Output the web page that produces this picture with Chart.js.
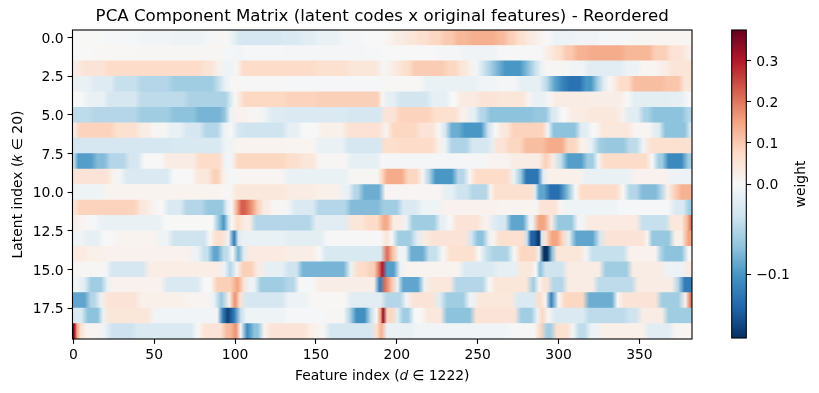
<!DOCTYPE html>
<html>
<head>
<meta charset="utf-8">
<script src="https://cdn.jsdelivr.net/npm/chart.js@4"></script>
<style>
html,body{margin:0;padding:0;background:#fff;width:819px;height:393px;overflow:hidden}
canvas{position:absolute;top:0}
#main{left:0}
#cbar{left:700px}
</style>
</head>
<body>
<canvas id="main" width="819" height="393"></canvas>
<canvas id="cbar" width="119" height="393"></canvas>
<script>
// Each row: [feature index where the segment ends, weight]
const row0=[[20,.001],[40,-.002],[60,-.005],[80,-.009],[88,-.004],[93,.006],[97,.003],[100,-.012],[104,-.028],[128,-.03],[140,-.026],[150,-.02],[165,-.012],[178,-.004],[193,0],[198,.012],[205,.03],[212,.045],[220,.06],[228,.08],[236,.1],[245,.125],[262,.135],[268,.12],[274,.09],[280,.06],[286,.035],[290,.015],[296,0],[310,-.01],[325,-.006],[345,-.002],[360,.006],[383,.009]];
const row1=[[12,0],[40,.003],[92,.006],[100,-.004],[105,-.006],[130,-.002],[180,-.003],[190,-.002],[225,0],[240,-.003],[262,-.007],[290,-.001],[293,.015],[297,.035],[303,.06],[310,.1],[318,.13],[340,.14],[358,.125],[368,.09],[378,.05],[383,.025]];
const row2=[[5,.03],[20,.05],[80,.07],[87,.05],[92,.02],[99,-.008],[103,.005],[150,.07],[170,.06],[189,.045],[194,-.003],[198,.02],[203,.04],[209,.065],[230,.095],[238,.08],[244,.045],[248,.015],[251,-.005],[255,-.03],[260,-.055],[265,-.08],[278,-.1],[283,-.075],[288,-.04],[291,-.01],[306,.006],[317,-.005],[340,-.02],[350,-.01],[362,.008],[368,.025],[383,.048]];
const row3=[[11,-.012],[25,-.022],[40,-.04],[60,-.05],[88,-.06],[92,-.04],[96,-.012],[101,.004],[130,.002],[190,-.002],[216,.003],[250,-.012],[262,-.005],[275,-.004],[290,-.016],[295,-.045],[300,-.09],[305,-.115],[315,-.128],[322,-.1],[326,-.06],[330,-.02],[333,.005],[336,.03],[345,.07],[365,.115],[376,.105],[383,.045]];
const row4=[[7,0],[20,-.012],[40,-.03],[70,-.045],[96,-.055],[99,-.025],[101,0],[104,.035],[131,.078],[150,.085],[190,.09],[192,.01],[200,-.015],[220,-.032],[232,-.016],[238,0],[250,.035],[262,.05],[280,.045],[283,.01],[293,-.012],[296,.005],[320,.03],[340,.025],[345,0],[370,-.018],[378,-.015],[383,-.002]];
const row5=[[11,-.045],[40,-.05],[60,-.06],[76,-.07],[92,-.08],[95,-.068],[99,-.01],[108,.015],[116,.005],[121,-.008],[131,-.022],[170,-.026],[191,-.03],[200,.05],[222,.085],[238,.06],[244,.02],[250,-.015],[256,-.05],[285,-.07],[294,-.065],[300,-.025],[306,0],[317,.03],[337,.04],[342,.015],[351,-.02],[357,-.055],[378,-.07],[383,-.05]];
const row6=[[2,.03],[25,.085],[40,.06],[48,.03],[58,.005],[68,-.012],[80,-.03],[91,-.05],[95,-.012],[100,0],[104,-.03],[131,-.035],[140,-.015],[152,0],[168,.02],[191,.055],[196,.012],[213,.08],[224,.05],[228,.005],[232,-.03],[240,-.085],[254,-.1],[259,-.035],[263,0],[270,.04],[292,.085],[295,-.005],[312,-.07],[319,-.02],[325,0],[345,.04],[358,.008],[364,-.02],[380,-.07],[383,-.03]];
const row7=[[60,-.03],[92,-.027],[99,-.008],[131,.012],[150,.008],[168,-.012],[191,-.03],[200,.065],[224,.07],[228,.02],[232,-.01],[245,-.052],[258,-.03],[260,-.015],[268,.05],[278,.08],[292,.115],[304,.14],[312,.08],[318,.02],[323,-.015],[328,-.06],[342,-.065],[350,-.045],[355,-.005],[380,.06],[383,.055]];
const row8=[[1,-.04],[13,-.095],[21,-.075],[33,-.05],[42,-.03],[56,0],[76,.03],[92,.07],[100,-.005],[131,.08],[140,.065],[150,.045],[170,.005],[190,-.015],[192,.002],[255,-.003],[270,.01],[290,.03],[294,.09],[299,.03],[304,-.04],[316,-.095],[323,-.06],[326,-.005],[356,.07],[360,0],[366,-.06],[378,-.11],[383,-.06]];
const row9=[[23,.05],[27,.012],[31,-.005],[60,-.025],[75,0],[85,.04],[91,.09],[95,.02],[101,-.004],[131,.008],[170,-.012],[190,.006],[192,.08],[205,.14],[214,.08],[218,.01],[222,-.05],[236,-.1],[243,-.05],[247,.002],[270,.07],[275,-.01],[278,-.06],[289,-.125],[292,-.02],[315,.02],[345,-.012],[368,.015],[383,-.01]];
const row10=[[19,-.008],[90,.012],[99,.006],[131,.04],[150,.03],[165,.02],[172,-.012],[178,-.05],[191,-.085],[228,.007],[236,-.015],[245,-.035],[257,-.05],[259,.01],[285,.06],[286,-.02],[293,-.09],[302,-.13],[306,-.09],[309,-.05],[312,0],[338,.07],[342,0],[350,-.05],[362,-.075],[365,-.05],[370,.02],[374,.09],[383,.13]];
const row11=[[2,.05],[40,.085],[46,.04],[51,.015],[57,0],[68,-.025],[81,-.05],[94,-.065],[96,-.015],[100,0],[102,.13],[108,.225],[112,.17],[116,.09],[122,.03],[131,.005],[135,-.005],[150,-.025],[170,-.05],[190,-.075],[202,-.06],[214,-.025],[227,-.008],[262,.015],[285,.012],[287,-.003],[300,.05],[302,.008],[336,-.008],[370,-.002],[379,-.025],[383,-.06]];
const row12=[[2,.025],[8,.01],[15,-.002],[55,-.012],[88,.001],[91,-.06],[95,-.1],[97,-.03],[99,0],[104,.07],[111,.03],[148,-.05],[170,-.02],[180,.045],[190,.07],[196,.14],[204,.03],[208,-.01],[225,-.06],[231,-.015],[235,0],[252,.05],[258,.015],[262,-.02],[269,-.03],[280,-.09],[286,-.01],[293,.15],[298,.03],[310,-.065],[317,-.005],[350,.035],[368,-.04],[378,.04],[381,.12],[383,.2]];
const row13=[[7,-.008],[17,-.015],[25,0],[52,.012],[60,-.008],[83,-.035],[86,.003],[94,.06],[98,-.01],[101,-.12],[103,-.025],[131,-.012],[155,-.018],[192,.002],[195,.05],[199,0],[210,-.06],[215,-.02],[220,.03],[244,.05],[248,-.03],[255,-.07],[259,-.01],[261,.01],[280,.06],[281,-.04],[287,-.14],[289,-.17],[290,-.03],[294,.05],[301,.15],[304,.08],[309,-.015],[323,-.09],[328,-.03],[354,.05],[356,.01],[370,-.065],[378,.02],[383,.15]];
const row14=[[8,.035],[20,.02],[73,.015],[79,-.01],[85,-.04],[91,-.09],[97,-.045],[100,0],[104,-.08],[107,-.02],[131,.035],[150,.025],[154,0],[192,-.027],[196,.21],[199,.11],[204,-.005],[207,-.01],[218,-.085],[226,-.04],[231,0],[249,.06],[253,0],[258,-.04],[270,-.055],[275,0],[287,.08],[289,-.01],[295,-.17],[297,-.07],[315,.045],[319,-.005],[342,-.04],[362,.015],[364,-.05],[378,-.07],[383,.003]];
const row15=[[19,.006],[22,-.005],[45,-.03],[92,.027],[95,-.01],[99,-.05],[103,-.005],[112,.09],[118,.03],[131,-.015],[140,-.035],[169,-.08],[174,-.01],[182,.07],[188,.09],[190,.2],[192,.3],[200,-.095],[204,-.012],[240,.012],[261,-.025],[275,-.015],[285,.04],[287,0],[290,-.07],[304,-.035],[327,.03],[344,-.06],[365,.03],[378,-.01],[383,.035]];
const row16=[[5,-.005],[9,-.02],[19,-.06],[23,-.012],[56,.015],[79,-.025],[87,0],[99,.09],[104,.15],[107,.05],[114,-.01],[131,-.06],[138,-.05],[150,.002],[188,.025],[191,-.12],[195,.2],[199,.1],[202,-.01],[215,-.09],[219,-.01],[235,.04],[255,-.05],[259,0],[282,.045],[287,-.06],[289,.01],[295,.05],[304,-.05],[323,.03],[347,-.045],[372,.03],[376,-.05],[383,-.12]];
const row17=[[9,-.09],[15,-.05],[19,-.01],[40,.05],[70,.02],[85,.01],[89,-.01],[94,-.065],[99,.02],[101,.17],[105,.06],[131,-.03],[145,-.01],[170,.004],[192,-.02],[204,-.05],[208,-.005],[224,.05],[229,-.02],[243,-.06],[249,-.01],[273,.04],[286,-.025],[291,.07],[293,.01],[298,-.115],[302,0],[317,.08],[335,-.085],[338,0],[362,.05],[376,-.06],[381,.02],[383,.2]];
const row18=[[7,-.025],[17,-.07],[20,-.01],[48,.045],[91,-.005],[94,-.12],[97,-.16],[102,-.12],[105,-.04],[131,-.008],[155,-.002],[169,.006],[173,-.05],[182,-.105],[186,-.04],[189,0],[191,.15],[192,.33],[199,.08],[202,-.02],[209,-.06],[217,0],[229,.04],[247,-.07],[275,.05],[285,-.06],[289,-.01],[291,.08],[296,.01],[317,-.025],[342,-.045],[350,-.035],[366,.03],[383,-.06]];
const row19=[[.5,.37],[1.5,.28],[3,.15],[6,.06],[17,.01],[22,-.01],[38,-.036],[75,-.025],[79,.002],[93,.05],[99,.12],[102,.17],[105,0],[110,-.11],[116,-.07],[120,.01],[145,.05],[152,.02],[157,.005],[186,-.03],[189,.06],[192,.13],[211,-.012],[270,-.006],[287,.002],[291,.08],[297,-.06],[307,.06],[311,-.005],[318,-.045],[325,-.01],[354,.02],[370,-.02],[383,.008]];
const rows=[row0,row1,row2,row3,row4,row5,row6,row7,row8,row9,row10,row11,row12,row13,row14,row15,row16,row17,row18,row19];
const xTicks=[0,50,100,150,200,250,300,350];
const yTicks=[0,2.5,5,7.5,10,12.5,15,17.5];
const cbarTicks=[-0.1,0,0.1,0.2,0.3];
const vMin=-0.171, vMax=0.374;
const rdbu=['#053061','#2166ac','#4393c3','#92c5de','#d1e5f0','#f7f7f7','#fddbc7','#f4a582','#d6604d','#b2182b','#67001f'];
const font='"DejaVu Sans"';

function norm(v){return v<0?0.5+0.5*Math.max(v,vMin)/(-vMin):0.5+0.5*Math.min(v,vMax)/vMax;}
function hex(h){return [1,3,5].map(i=>parseInt(h.substr(i,2),16));}
function colour(v){
  const t=norm(v)*10,i=Math.min(9,Math.floor(t)),f=t-i,a=hex(rdbu[i]),b=hex(rdbu[i+1]);
  return 'rgb('+a.map((c,k)=>Math.round(c+(b[k]-c)*f)).join(',')+')';
}
// Each row is one bar; its fill follows the row's read segments across the x scale.
function rowFill(ctx){
  const s=ctx.chart.scales.x;
  if(!s||!ctx.chart.chartArea)return '#f7f7f7';
  const row=rows[ctx.dataIndex],x0=s.getPixelForValue(-0.5),x1=s.getPixelForValue(382.5);
  const g=ctx.chart.ctx.createLinearGradient(x0,0,x1,0);
  const put=(f,w)=>{
    const p=(s.getPixelForValue(f)-x0)/(x1-x0);
    g.addColorStop(Math.min(1,Math.max(0,p)),colour(w));
  };
  let start=-0.5;
  row.forEach(seg=>{
    const end=Math.min(seg[0],382.5),width=end-start;
    if(width>=6){put(start+2,seg[1]);put(end-2,seg[1]);}
    else put((start+end)/2,seg[1]);
    start=end;
  });
  return g;
}
const frame={id:'frame',afterDraw(c){
  const a=c.chartArea,g=c.ctx;
  g.save();g.strokeStyle='#000';g.lineWidth=1.1;
  g.strokeRect(a.left,a.top,a.right-a.left,a.bottom-a.top);
  g.restore();
}};
new Chart(document.getElementById('main'),{
  type:'bar',
  data:{datasets:[{data:rows.map((row,r)=>({x:[-0.5,382.5],y:r})),backgroundColor:rowFill,borderWidth:0,inflateAmount:0.3,
    barPercentage:1,categoryPercentage:1}]},
  options:{
    indexAxis:'y',responsive:false,animation:false,
    layout:{padding:{left:0,right:127,top:0,bottom:0}},
    plugins:{legend:{display:false},tooltip:{enabled:false},
      title:{display:true,text:'PCA Component Matrix (latent codes x original features) - Reordered',
        fullSize:false,color:'#000',font:{family:font,size:16.67,weight:'normal',lineHeight:'20px'},padding:{top:7,bottom:3}}},
    scales:{
      x:{type:'linear',min:-0.5,max:382.5,position:'bottom',
        afterBuildTicks(s){s.ticks=xTicks.map(v=>({value:v}));},
        afterFit(s){s.height=54;},
        grid:{drawOnChartArea:false,tickLength:4.86,tickColor:'#000',tickWidth:1.1},border:{display:false},
        ticks:{color:'#000',font:{family:font,size:13.9},padding:3,maxRotation:0,autoSkip:false,callback:v=>String(v)},
        title:{display:true,text:'Feature index (𝑑 ∈ 1222)',color:'#000',font:{family:font,size:13.9},padding:{top:0,bottom:8.7}}},
      y:{type:'linear',min:-0.5,max:19.5,reverse:true,offset:false,
        afterBuildTicks(s){s.ticks=yTicks.map(v=>({value:v}));},
        afterFit(s){s.width=72.5;},
        grid:{offset:false,drawOnChartArea:false,tickLength:4.86,tickColor:'#000',tickWidth:1.1},border:{display:false},
        ticks:{color:'#000',font:{family:font,size:13.9},padding:4,labelOffset:1.5,autoSkip:false,callback:v=>Number(v).toFixed(1)},
        title:{display:true,text:'Latent index (𝑘 ∈ 20)',color:'#000',font:{family:font,size:13.9},padding:{top:10,bottom:0}}}
    }
  },
  plugins:[frame]
});
const weightLabel={id:'weightLabel',afterDraw(c){
  const g=c.ctx;g.save();
  g.translate(101.5,184);g.rotate(-Math.PI/2);
  g.fillStyle='#000';g.font='13.9px '+font;g.textAlign='center';g.textBaseline='middle';
  g.fillText('weight',0,0);g.restore();
}};
new Chart(document.getElementById('cbar'),{
  type:'bar',
  data:{labels:['weight'],datasets:[{data:[[0,1]],borderWidth:0,barPercentage:1,categoryPercentage:1,inflateAmount:0,
    backgroundColor(ctx){
      const a=ctx.chart.chartArea;
      if(!a)return '#fff';
      const g=ctx.chart.ctx.createLinearGradient(0,a.bottom,0,a.top);
      rdbu.forEach((c,i)=>g.addColorStop(i/10,c));
      return g;
    }}]},
  options:{
    responsive:false,animation:false,
    layout:{padding:{left:31.7,right:0,top:30,bottom:55}},
    plugins:{legend:{display:false},tooltip:{enabled:false}},
    scales:{
      x:{display:false},
      y:{type:'linear',min:0,max:1,position:'right',
        afterBuildTicks(s){s.ticks=cbarTicks.map(v=>({value:norm(v)}));},
        afterFit(s){s.width=72.7;},
        grid:{drawOnChartArea:false,tickLength:4.86,tickColor:'#000',tickWidth:1.1},border:{display:false},
        ticks:{color:'#000',font:{family:font,size:13.9},padding:5,labelOffset:1.5,autoSkip:false,
          callback(val,i){const v=cbarTicks[i];return v<0?'\u2212'+Math.abs(v).toFixed(1):v.toFixed(1);}}}
    }
  },
  plugins:[frame,weightLabel]
});
</script>
</body>
</html>
